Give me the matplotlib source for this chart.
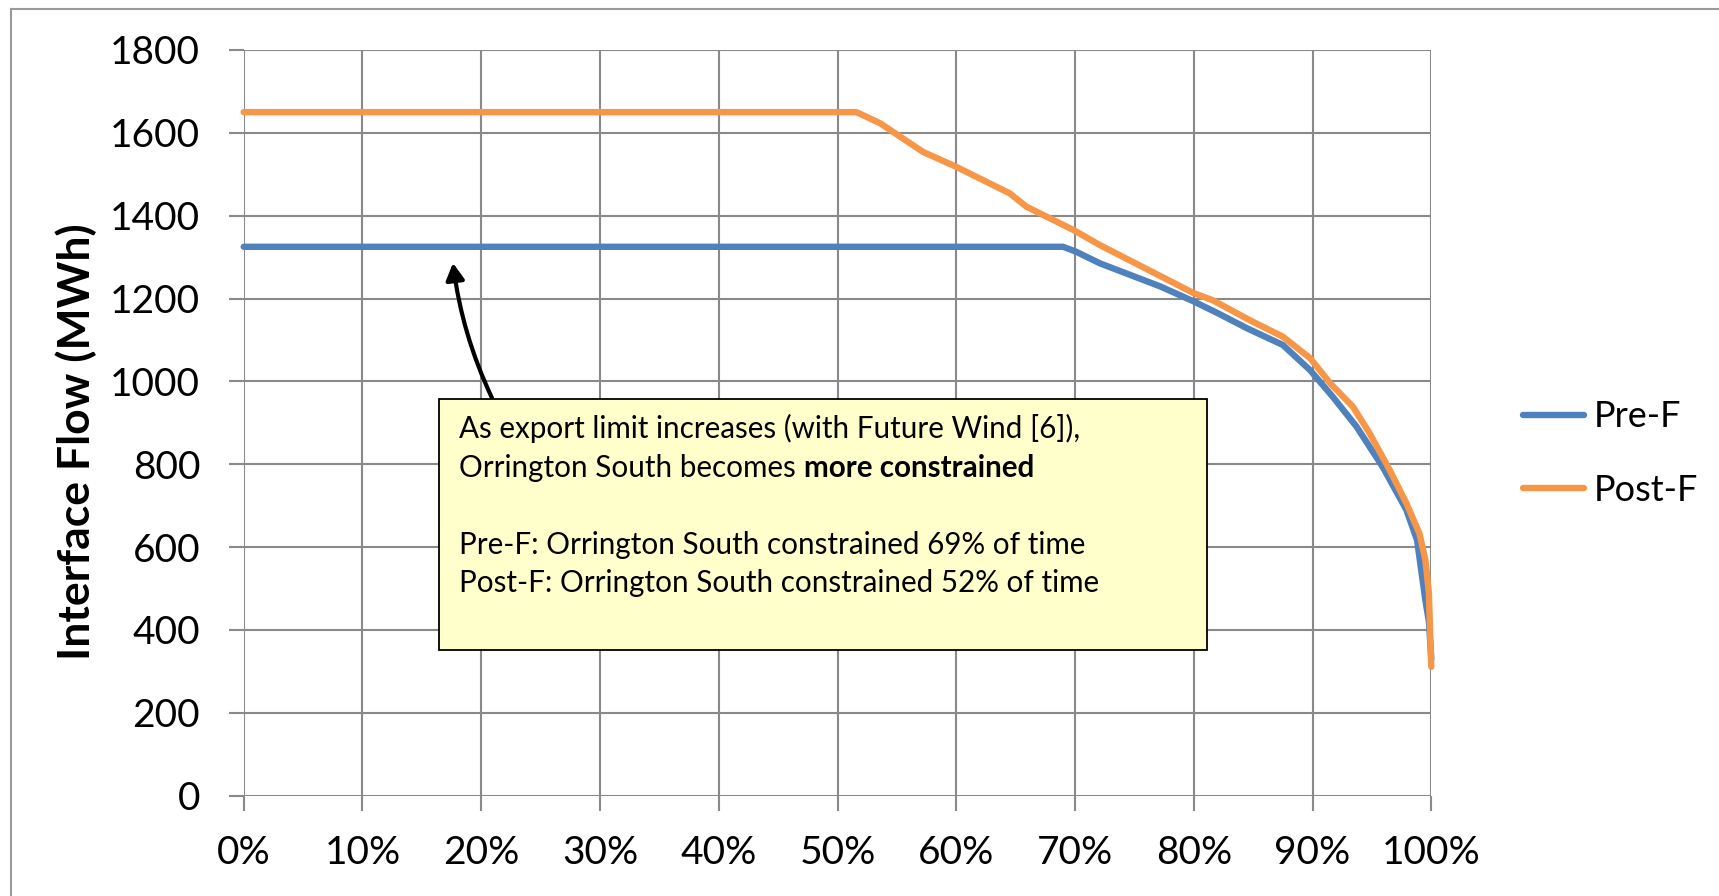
import matplotlib
matplotlib.use("Agg")
import matplotlib.pyplot as plt
from matplotlib.patches import Rectangle, FancyArrowPatch
from matplotlib.lines import Line2D

plt.rcParams['font.family'] = ['Lato', 'DejaVu Sans']

# Duration curves: share of time (%) vs interface flow (MWh)
pre_pct = [0, 69.0, 70.1, 72.1, 77.2, 80.0, 82.0, 84.5, 87.5, 89.8, 91.7,
           93.7, 95.9, 97.9, 98.8, 99.5, 99.8, 100]
pre_flow = [1325, 1325, 1313, 1285, 1229, 1193, 1165, 1128, 1088, 1027, 963,
            891, 794, 690, 617, 472, 420, 330]

post_pct = [0, 51.6, 53.6, 57.2, 60.0, 64.5, 65.9, 69.9, 72.1, 80.0, 81.6,
            84.7, 87.5, 89.8, 91.5, 93.4, 94.8, 96.5, 97.9, 99.0, 99.5, 99.8,
            99.9, 100]
post_flow = [1650, 1650, 1623, 1554, 1518, 1454, 1422, 1365, 1329, 1213, 1196,
             1148, 1108, 1056, 995, 939, 875, 786, 706, 633, 569, 489,
             392, 311]

series_names = ["Pre-F", "Post-F"]
series_colors = ["#4F81BD", "#F79646"]

x_ticks = [0, 10, 20, 30, 40, 50, 60, 70, 80, 90, 100]
x_tick_labels = ["0%", "10%", "20%", "30%", "40%", "50%", "60%", "70%",
                 "80%", "90%", "100%"]
y_ticks = [0, 200, 400, 600, 800, 1000, 1200, 1400, 1600, 1800]

y_label = "Interface Flow (MWh)"
note_lines = [
    "As export limit increases (with Future Wind [6]),",
    "Orrington South becomes ",
    "Pre-F: Orrington South constrained 69% of time",
    "Post-F: Orrington South constrained 52% of time",
]
note_bold = "more constrained"

W, H, DPI = 1719, 896, 100
fig = plt.figure(figsize=(W / DPI, H / DPI), dpi=DPI)

# axes placement in pixels
x0_px, x1_px = 243.7, 1431.3
ytop_px, ybot_px = 50.0, 795.7
ax = fig.add_axes([x0_px / W, 1 - ybot_px / H,
                   (x1_px - x0_px) / W, (ybot_px - ytop_px) / H])

grid_col = "#898989"
ax.set_xlim(0, 100)
ax.set_ylim(0, 1800)
ax.set_xticks(x_ticks)
ax.set_xticklabels(x_tick_labels)
ax.set_yticks(y_ticks)
ax.grid(True, color=grid_col, linewidth=1.5)
ax.set_axisbelow(True)
for s in ax.spines.values():
    s.set_visible(False)
ax.tick_params(axis='y', direction='out', length=10.8, width=1.5,
               color=grid_col, pad=20.5, labelsize=28, labelcolor='black')
ax.tick_params(axis='x', direction='out', length=10.5, width=1.5,
               color=grid_col, pad=18, labelsize=28, labelcolor='black')

ax.plot(pre_pct, pre_flow, color=series_colors[0], lw=4.6,
        solid_capstyle='round', solid_joinstyle='round', label=series_names[0],
        zorder=3, clip_on=False)
ax.plot(post_pct, post_flow, color=series_colors[1], lw=4.6,
        solid_capstyle='round', solid_joinstyle='round', label=series_names[1],
        zorder=4, clip_on=False)

# pixel -> data helpers for the callout
def px_x(px):
    return (px - x0_px) / (x1_px - x0_px) * 100

def px_y(py):
    return (ybot_px - py) / (ybot_px - ytop_px) * 1800

# callout box
bx0, bx1 = px_x(438.5), px_x(1207)
by0, by1 = px_y(650), px_y(398.5)
ax.add_patch(Rectangle((bx0, by0), bx1 - bx0, by1 - by0, facecolor="#FFFFCC",
                       edgecolor="black", lw=1.3, zorder=6, clip_on=False))

tx = px_x(459.3)
baselines = [438.3, 477.3, 554.0, 591.7]
texts = []
for line, b in zip(note_lines, baselines):
    texts.append(ax.text(tx, px_y(b), line, fontsize=21.3, va='baseline',
                         ha='left', color='black', zorder=7))
ax.annotate(note_bold, xy=(1, 0), xycoords=texts[1], fontsize=21.3,
            fontweight='bold', va='bottom', ha='left', zorder=7)

# arrow from callout to the Pre-F plateau
arrow = FancyArrowPatch((px_x(492), px_y(398)), (px_x(453), px_y(263)),
                        connectionstyle="arc3,rad=-0.08",
                        arrowstyle="-|>,head_length=10,head_width=5.5",
                        color="black", lw=3.0, zorder=5, clip_on=False,
                        shrinkA=0, shrinkB=0)
ax.add_patch(arrow)

# axis title
fig.text(76 / W, 1 - 441.5 / H, y_label, rotation=90, ha='center',
         va='center', fontsize=32, fontweight='bold')

# legend
leg = fig.legend(loc='center left', bbox_to_anchor=(1523 / W, 1 - 453.5 / H),
                 frameon=False, fontsize=26, handlelength=1.7,
                 handletextpad=0.25, labelspacing=1.12, borderpad=0,
                 borderaxespad=0)

# outer chart frame
frame_col = "#9a9a9a"
fig.add_artist(Line2D([10.5 / W, 10.5 / W], [0, 1 - 9.5 / H],
                      color=frame_col, lw=1.5, transform=fig.transFigure))
fig.add_artist(Line2D([10.5 / W, 1], [1 - 9.5 / H, 1 - 9.5 / H],
                      color=frame_col, lw=1.5, transform=fig.transFigure))

fig.savefig("out.png", dpi=DPI, facecolor='white')
